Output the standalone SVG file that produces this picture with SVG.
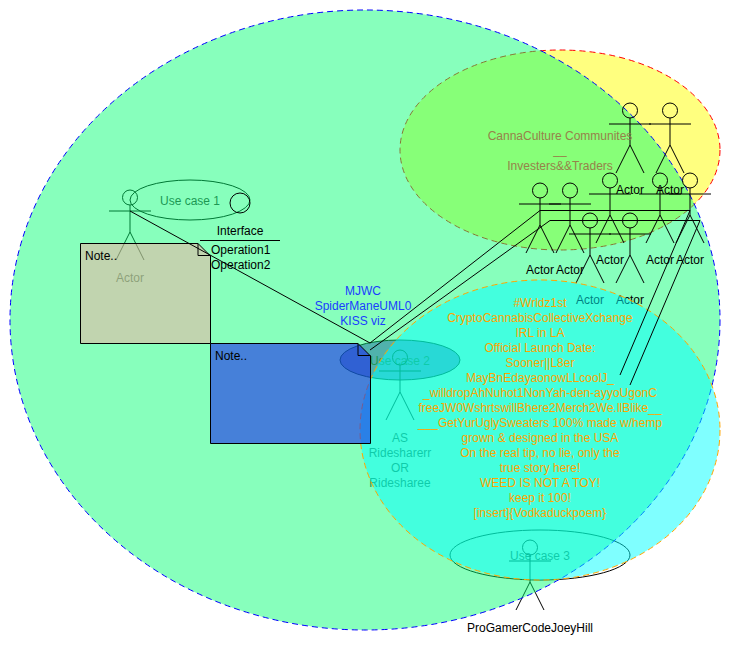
<svg xmlns="http://www.w3.org/2000/svg" xmlns:xlink="http://www.w3.org/1999/xlink" width="730" height="660" viewBox="0 0 730 660">
<style>
text{font-family:"Liberation Sans",Arial,sans-serif;font-size:12px;text-anchor:middle;fill:#000}
.low text{fill:#3a3a3a}
.s{fill:none;stroke:#000;stroke-width:1}
.o text{fill:#FFA500}
.b text{fill:#1A3CFF}
.olive text{fill:#96824A}
.note{stroke:#000;stroke-width:1}
.big{stroke-dasharray:6 4;stroke-width:1}
</style>
<defs>
<g id="actor" class="s"><circle cx="0" cy="7.5" r="7.5"/><path d="M0,15V42M-21,21H21M0,42L-14,70M0,42L14,70"/></g>
</defs>
<rect width="730" height="660" fill="#fff"/>
<g id="actor1" class="low"><use xlink:href="#actor" x="130" y="190"/><text x="130" y="282">Actor</text></g>
<g id="usecase1" class="low"><ellipse class="s" cx="190" cy="200" rx="60" ry="20"/><text x="190" y="205">Use case 1</text></g>
<g id="usecase2" class="low"><ellipse cx="400" cy="360" rx="60" ry="20" fill="#986FE0" stroke="#000"/><text x="400" y="365">Use case 2</text></g>
<g id="actor2" class="low"><use xlink:href="#actor" x="400" y="350"/><text x="400" y="442">AS</text><text x="400" y="457">Ridesharerr</text><text x="400" y="472">OR</text><text x="400" y="487">Ridesharee</text></g>
<g id="usecase3" class="low"><ellipse class="s" cx="540" cy="555" rx="90" ry="25"/><text x="540" y="560">Use case 3</text></g>
<g id="actor3"><use xlink:href="#actor" x="530" y="540"/><text x="530" y="632">ProGamerCodeJoeyHill</text></g>
<ellipse id="yellow-zone" class="big" cx="560" cy="150" rx="160" ry="100" fill="#FFFF00" fill-opacity=".5" stroke="#FF0000"/>
<ellipse id="green-zone" class="big" cx="365" cy="320" rx="355" ry="310" fill="#00FF70" fill-opacity=".47" stroke="#0000FF"/>
<g id="actor4"><use xlink:href="#actor" x="630" y="103"/><text x="630" y="194">Actor</text></g>
<g id="actor5"><use xlink:href="#actor" x="670" y="103"/><text x="670" y="194">Actor</text></g>
<g id="actor6"><use xlink:href="#actor" x="610" y="173"/><text x="610" y="264">Actor</text></g>
<g id="actor7"><use xlink:href="#actor" x="660" y="173"/><text x="660" y="264">Actor</text></g>
<g id="actor8"><use xlink:href="#actor" x="690" y="173"/><text x="690" y="264">Actor</text></g>
<g id="actor9"><use xlink:href="#actor" x="540" y="183"/><text x="540" y="274">Actor</text></g>
<g id="actor10"><use xlink:href="#actor" x="570" y="183"/><text x="570" y="274">Actor</text></g>
<g id="actor11"><use xlink:href="#actor" x="590" y="213"/><text x="590" y="304">Actor</text></g>
<g id="actor12"><use xlink:href="#actor" x="630" y="213"/><text x="630" y="304">Actor</text></g>
<ellipse id="cyan-zone" class="big" cx="540" cy="430" rx="180" ry="150" fill="#00FFFF" fill-opacity=".5" stroke="#FFA500"/>
<g id="note1"><path class="note" d="M80.500,243.500H198L210.500,256V343.500H80.500Z" fill="#FCA9A2" fill-opacity=".5"/><path class="s" d="M198,243.500V255.500H210.500"/><text x="85" y="260" style="text-anchor:start">Note..</text></g>
<g id="note2"><path class="note" d="M210.500,343.500H358L370.500,356V443.500H210.500Z" fill="#1B2BED" fill-opacity=".6"/><path class="s" d="M358,343.500V355.500H370.500"/><text x="215" y="360" style="text-anchor:start">Note..</text></g>
<g id="interface"><circle class="s" cx="240" cy="203" r="10"/><text x="240" y="235">Interface</text><path class="s" d="M200,240.500H280"/><text x="211" y="254" style="text-anchor:start">Operation1</text><text x="211" y="269" style="text-anchor:start">Operation2</text></g>
<g id="label-community" class="olive"><text x="560" y="140">CannaCulture Communites</text><text x="560" y="154">__</text><text x="560" y="170">Investers&amp;&amp;Traders</text></g>
<g id="label-blue" class="b"><text x="363" y="295">MJWC</text><text x="363" y="310">SpiderManeUML0</text><text x="363" y="325">KISS viz</text></g>
<g id="label-orange" class="o">
<text x="540" y="307">#Wrldz1st</text>
<text x="540" y="322">CryptoCannabisCollectiveXchange</text>
<text x="540" y="337">IRL in LA</text>
<text x="540" y="352">Official Launch Date:</text>
<text x="540" y="367">Sooner||L8er</text>
<text x="540" y="382">MayBnEdayaonowLLcoolJ_</text>
<text x="540" y="397">_willdropAhNuhot1NonYah-den-ayyoUgonC</text>
<text x="540" y="412">freeJW0WshrtswillBhere2Merch2We.llBlike__</text>
<text x="540" y="427">___GetYurUglySweaters 100% made w/hemp</text>
<text x="540" y="442">grown &amp; designed in the USA</text>
<text x="540" y="457">On the real tip, no lie, only the</text>
<text x="540" y="472">true story here!</text>
<text x="540" y="487">WEED IS NOT A TOY!</text>
<text x="540" y="502">keep it 100!</text>
<text x="540" y="517">[insert]{Vodkaduckpoem}</text>
</g>
<g id="connectors" class="s">
<path d="M130,211L370,343"/>
<path d="M370,343L540,210.500H690L620,375"/>
<path d="M370,350L550,220.500H700L630,385"/>
</g>
</svg>
